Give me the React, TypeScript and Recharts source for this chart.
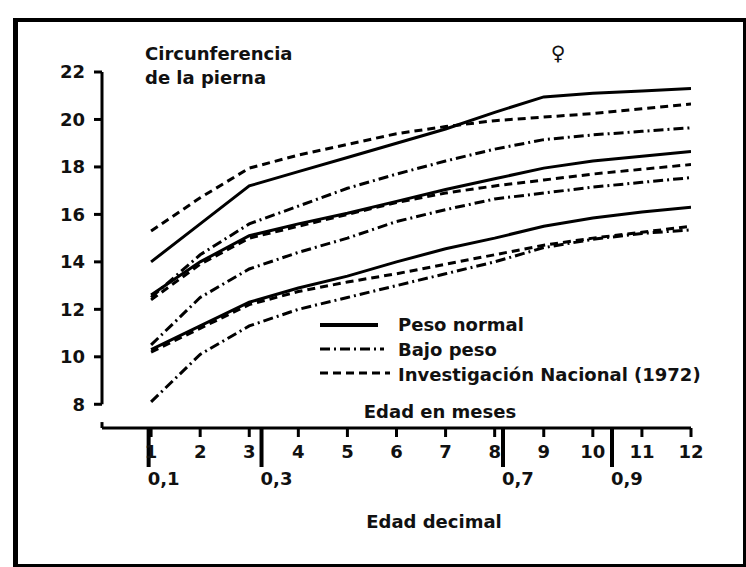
import React from 'react';
import {
  LineChart,
  Line,
  XAxis,
  YAxis,
  Legend,
  ReferenceLine,
} from 'recharts';

// Edad en meses
const months = [1, 2, 3, 4, 5, 6, 7, 8, 9, 10, 11, 12];

// Peso normal (solid)
const normalUpper = [14.0, 15.6, 17.2, 17.8, 18.4, 19.0, 19.6, 20.3, 20.95, 21.1, 21.2, 21.3];
const normalMid = [12.6, 14.0, 15.1, 15.6, 16.05, 16.55, 17.05, 17.5, 17.95, 18.25, 18.45, 18.65];
const normalLower = [10.3, 11.3, 12.3, 12.9, 13.4, 14.0, 14.55, 15.0, 15.5, 15.85, 16.1, 16.3];

// Bajo peso (dash-dot)
const lowUpper = [12.5, 14.3, 15.6, 16.35, 17.1, 17.7, 18.25, 18.75, 19.15, 19.35, 19.5, 19.65];
const lowMid = [10.5, 12.5, 13.7, 14.4, 15.0, 15.7, 16.2, 16.65, 16.9, 17.15, 17.35, 17.55];
const lowLower = [8.1, 10.1, 11.3, 12.0, 12.5, 13.0, 13.5, 14.0, 14.6, 14.95, 15.2, 15.35];

// Investigación Nacional 1972 (dashed)
const natUpper = [15.3, 16.7, 17.95, 18.5, 18.95, 19.4, 19.7, 19.95, 20.1, 20.25, 20.45, 20.65];
const natMid = [12.4, 13.9, 15.0, 15.5, 16.0, 16.5, 16.9, 17.2, 17.45, 17.7, 17.9, 18.1];
const natLower = [10.2, 11.2, 12.2, 12.75, 13.15, 13.5, 13.9, 14.3, 14.7, 15.0, 15.25, 15.5];

// axis ticks
const yTicks = [8, 10, 12, 14, 16, 18, 20, 22];
const decimalTicks = [0.95, 3.25, 8.17, 10.39];
const decimalLabels = ['0,1', '0,3', '0,7', '0,9'];

const FONT = "'DejaVu Sans', sans-serif";
const DASHED = '8 5';
const DASH_DOT = '10 4 2 4';

const data = months.map((m, i) => ({
  month: m,
  normalUpper: normalUpper[i],
  normalMid: normalMid[i],
  normalLower: normalLower[i],
  lowUpper: lowUpper[i],
  lowMid: lowMid[i],
  lowLower: lowLower[i],
  natUpper: natUpper[i],
  natMid: natMid[i],
  natLower: natLower[i],
}));

const seriesStyle = [
  { key: 'normalUpper', dash: undefined },
  { key: 'normalMid', dash: undefined },
  { key: 'normalLower', dash: undefined },
  { key: 'lowUpper', dash: DASH_DOT },
  { key: 'lowMid', dash: DASH_DOT },
  { key: 'lowLower', dash: DASH_DOT },
  { key: 'natUpper', dash: DASHED },
  { key: 'natMid', dash: DASHED },
  { key: 'natLower', dash: DASHED },
];

const legendItems = [
  { label: 'Peso normal', dash: undefined, width: 4, len: 58 },
  { label: 'Bajo peso', dash: DASH_DOT, width: 3, len: 64 },
  { label: 'Investigación Nacional (1972)', dash: DASHED, width: 3, len: 70 },
];

const renderLegend = () => (
  <svg width={410} height={80}>
    {legendItems.map((it, i) => (
      <g key={it.label}>
        <line
          x1={4}
          x2={4 + it.len}
          y1={15 + i * 24}
          y2={15 + i * 24}
          stroke="#000"
          strokeWidth={it.width}
          strokeDasharray={it.dash}
        />
        <text
          x={82}
          y={21 + i * 25}
          fontFamily={FONT}
          fontWeight="bold"
          fontSize={18}
          fill="#111"
        >
          {it.label}
        </text>
      </g>
    ))}
  </svg>
);

const DecimalTick = (props: any) => {
  const { x, y, payload } = props;
  const idx = decimalTicks.indexOf(payload.value);
  return (
    <text
      x={x - 1}
      y={y}
      dy="0.71em"
      textAnchor="start"
      fontFamily={FONT}
      fontWeight="bold"
      fontSize={18}
      fill="#111"
    >
      {decimalLabels[idx]}
    </text>
  );
};

const tickStyle = { fontFamily: FONT, fontWeight: 'bold', fontSize: 18, fill: '#111' };

export default function App() {
  return (
    <div style={{ position: 'absolute', left: 0, top: 0, width: 746, height: 567, background: '#fff' }}>
      <div
        style={{
          position: 'absolute',
          left: 13,
          top: 18,
          width: 733,
          height: 549,
          boxSizing: 'border-box',
          borderLeft: '5px solid #000',
          borderTop: '4px solid #000',
          borderRight: '3px solid #000',
          borderBottom: '3px solid #000',
        }}
      />
      <LineChart
        width={746}
        height={567}
        data={data}
        margin={{ top: 72, right: 55, bottom: 137, left: 42 }}
        style={{ position: 'absolute', left: 0, top: 0 }}
      >
        <XAxis
          dataKey="month"
          type="number"
          domain={[0, 12]}
          allowDataOverflow
          ticks={months}
          height={1}
          tickSize={9}
          tickMargin={8}
          axisLine={{ stroke: '#000', strokeWidth: 3 }}
          tickLine={{ stroke: '#000', strokeWidth: 3 }}
          tick={tickStyle}
          interval={0}
        />
        <XAxis
          xAxisId="dec"
          dataKey="month"
          type="number"
          domain={[0, 12]}
          allowDataOverflow
          ticks={decimalTicks}
          height={1}
          tickSize={38}
          tickMargin={5}
          axisLine={false}
          tickLine={{ stroke: '#000', strokeWidth: 4 }}
          tick={<DecimalTick />}
          interval={0}
        />
        <YAxis
          type="number"
          domain={[7, 22]}
          allowDataOverflow
          ticks={yTicks}
          width={60}
          tickSize={8}
          tickMargin={9}
          axisLine={false}
          tickLine={{ stroke: '#000', strokeWidth: 3 }}
          tick={tickStyle}
          interval={0}
        />
        <ReferenceLine
          segment={[{ x: 0, y: 8 }, { x: 0, y: 22 }]}
          stroke="#000"
          strokeWidth={3}
        />
        <ReferenceLine
          segment={[{ x: 0, y: 7 }, { x: 0, y: 7.25 }]}
          stroke="#000"
          strokeWidth={3}
        />
        {seriesStyle.map((s) => (
          <Line
            key={s.key}
            dataKey={s.key}
            type="linear"
            stroke="#000"
            strokeWidth={3}
            strokeDasharray={s.dash}
            dot={false}
            isAnimationActive={false}
          />
        ))}
        <Legend
          layout="vertical"
          align="center"
          verticalAlign="middle"
          content={renderLegend}
          wrapperStyle={{ left: 316, top: 310, width: 410, height: 80 }}
        />
      </LineChart>
      <svg
        width={746}
        height={567}
        style={{ position: 'absolute', left: 0, top: 0, pointerEvents: 'none' }}
      >
        <text x={145} y={60} fontFamily={FONT} fontWeight="bold" fontSize={18} fill="#111">
          Circunferencia
        </text>
        <text x={145} y={84} fontFamily={FONT} fontWeight="bold" fontSize={18} fill="#111">
          de la pierna
        </text>
        <text x={558} y={60} textAnchor="middle" fontFamily={FONT} fontWeight="bold" fontSize={20} fill="#111">
          ♀
        </text>
        <text x={440} y={418} textAnchor="middle" fontFamily={FONT} fontWeight="bold" fontSize={18} fill="#111">
          Edad en meses
        </text>
        <text x={434} y={528} textAnchor="middle" fontFamily={FONT} fontWeight="bold" fontSize={18} fill="#111">
          Edad decimal
        </text>
      </svg>
    </div>
  );
}
